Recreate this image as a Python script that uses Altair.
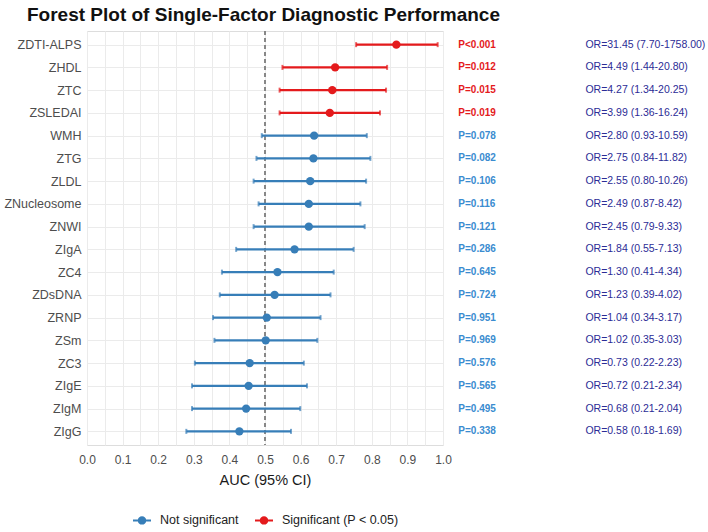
import altair as alt
import pandas as pd

# Predictors, top to bottom
names = [
    "ZDTI-ALPS", "ZHDL", "ZTC", "ZSLEDAI", "WMH", "ZTG", "ZLDL", "ZNucleosome",
    "ZNWI", "ZIgA", "ZC4", "ZDsDNA", "ZRNP", "ZSm", "ZC3", "ZIgE", "ZIgM", "ZIgG",
]
auc = [0.869, 0.697, 0.689, 0.682, 0.638, 0.636, 0.627, 0.623, 0.623,
       0.583, 0.535, 0.527, 0.505, 0.502, 0.457, 0.454, 0.447, 0.428]
ci_low = [0.756, 0.549, 0.541, 0.541, 0.491, 0.476, 0.468, 0.482, 0.468,
          0.419, 0.379, 0.373, 0.354, 0.358, 0.303, 0.295, 0.295, 0.279]
ci_high = [0.985, 0.843, 0.840, 0.823, 0.786, 0.796, 0.784, 0.768, 0.780,
           0.749, 0.693, 0.684, 0.656, 0.647, 0.609, 0.618, 0.599, 0.573]
p_labels = ["P<0.001", "P=0.012", "P=0.015", "P=0.019", "P=0.078", "P=0.082",
            "P=0.106", "P=0.116", "P=0.121", "P=0.286", "P=0.645", "P=0.724",
            "P=0.951", "P=0.969", "P=0.576", "P=0.565", "P=0.495", "P=0.338"]
or_labels = [
    "OR=31.45 (7.70-1758.00)", "OR=4.49 (1.44-20.80)", "OR=4.27 (1.34-20.25)",
    "OR=3.99 (1.36-16.24)", "OR=2.80 (0.93-10.59)", "OR=2.75 (0.84-11.82)",
    "OR=2.55 (0.80-10.26)", "OR=2.49 (0.87-8.42)", "OR=2.45 (0.79-9.33)",
    "OR=1.84 (0.55-7.13)", "OR=1.30 (0.41-4.34)", "OR=1.23 (0.39-4.02)",
    "OR=1.04 (0.34-3.17)", "OR=1.02 (0.35-3.03)", "OR=0.73 (0.22-2.23)",
    "OR=0.72 (0.21-2.34)", "OR=0.68 (0.21-2.04)", "OR=0.58 (0.18-1.69)",
]
significant = [True] * 4 + [False] * 14

groups = ["Not significant", "Significant (P < 0.05)"]
group_colors = ["#377EB8", "#E41A1C"]
p_text_colors = ["#3A8CD0", "#E41A1C"]

# grid every 0.05, labels every 0.1
tick_values = [round(i * 0.05, 2) for i in range(21)]
FONT = "Liberation Sans"

df = pd.DataFrame({
    "name": names,
    "auc": auc,
    "lo": ci_low,
    "hi": ci_high,
    "p": p_labels,
    "orl": or_labels,
    "sig": significant,
    "group": [groups[1] if s else groups[0] for s in significant],
})

y_enc = alt.Y(
    "name:N",
    sort=names,
    scale=alt.Scale(type="point", padding=0.6),
    axis=alt.Axis(
        title=None, domain=False, ticks=False, labelPadding=6,
        labelFontSize=12.5, labelColor="#4D4D4D", labelFont=FONT,
        grid=True, gridColor="#EBEBEB", gridWidth=1,
    ),
)
x_scale = alt.Scale(domain=[0, 1], nice=False, zero=False)
x_axis = alt.Axis(
    values=tick_values, domain=False, ticks=False,
    labelExpr="abs(datum.value*10 - round(datum.value*10)) < 0.001 ? format(datum.value, '.1f') : ''",
    labelOverlap=False, labelFlush=False,
    labelFontSize=12, labelColor="#4D4D4D", labelFont=FONT,
    labelPadding=9, grid=True, gridColor="#EBEBEB", gridWidth=1,
    title="AUC (95% CI)", titleFontSize=14.5, titleFont=FONT,
    titleFontWeight="normal", titleColor="#1A1A1A", titlePadding=8,
)
color_scale = alt.Scale(domain=groups, range=group_colors)
legend = alt.Legend(
    title=None, orient="none", legendX=45, legendY=479,
    direction="horizontal",
    symbolType="M-1,0H1M-0.36,0A0.36,0.36,0,1,1,0.36,0A0.36,0.36,0,1,1,-0.36,0Z",
    symbolSize=324, symbolStrokeWidth=2, symbolOpacity=1,
    labelFontSize=12.5, labelFont=FONT, labelColor="#222222",
    labelOffset=8, columnPadding=12,
)
color_enc = alt.Color("group:N", scale=color_scale, legend=legend)

base = alt.Chart(df)

# dashed reference at AUC = 0.5
ref = base.mark_rule(color="#888888", strokeDash=[4, 3], strokeWidth=1.2).encode(
    x=alt.datum(0.5, scale=x_scale, axis=x_axis),
)

bars = base.mark_rule(strokeWidth=2.2).encode(
    x=alt.X("lo:Q", scale=x_scale, axis=x_axis),
    x2="hi:Q",
    y=y_enc,
    color=color_enc,
)

caps_lo = base.mark_tick(thickness=2, size=5).encode(
    x=alt.X("lo:Q", scale=x_scale, axis=x_axis), y=y_enc, color=color_enc,
)
caps_hi = base.mark_tick(thickness=2, size=5).encode(
    x=alt.X("hi:Q", scale=x_scale, axis=x_axis), y=y_enc, color=color_enc,
)

points = base.mark_point(filled=True, size=70, opacity=1).encode(
    x=alt.X("auc:Q", scale=x_scale, axis=x_axis),
    y=y_enc,
    color=color_enc,
)

p_sig = base.transform_filter("datum.sig").mark_text(
    align="left", baseline="middle", fontSize=10, fontWeight="bold", font=FONT,
    color=p_text_colors[1],
).encode(x=alt.datum(1.043, scale=x_scale, axis=x_axis), y=y_enc, text="p:N")

p_ns = base.transform_filter("!datum.sig").mark_text(
    align="left", baseline="middle", fontSize=10, fontWeight="bold", font=FONT,
    color=p_text_colors[0],
).encode(x=alt.datum(1.043, scale=x_scale, axis=x_axis), y=y_enc, text="p:N")

or_text = base.mark_text(align="left", baseline="middle", fontSize=10.5,
                         font=FONT, color="#2C2C96").encode(
    x=alt.datum(1.40, scale=x_scale, axis=x_axis),
    y=y_enc,
    text="orl:N",
)

chart = alt.layer(ref, bars, caps_lo, caps_hi, points, p_sig, p_ns, or_text).properties(
    width=356,
    height=414,
    title=alt.TitleParams(
        "Forest Plot of Single-Factor Diagnostic Performance",
        anchor="start", frame="group", dx=-60, offset=5,
        fontSize=19, fontWeight="bold", font=FONT, color="#111111",
    ),
    autosize=alt.AutoSizeParams(type="none"),
    padding={"left": 87, "top": 31, "right": 265, "bottom": 87},
).configure_view(stroke=None).configure(background="white")

chart.save("out.html", embed_options={"renderer": "svg", "actions": False})
